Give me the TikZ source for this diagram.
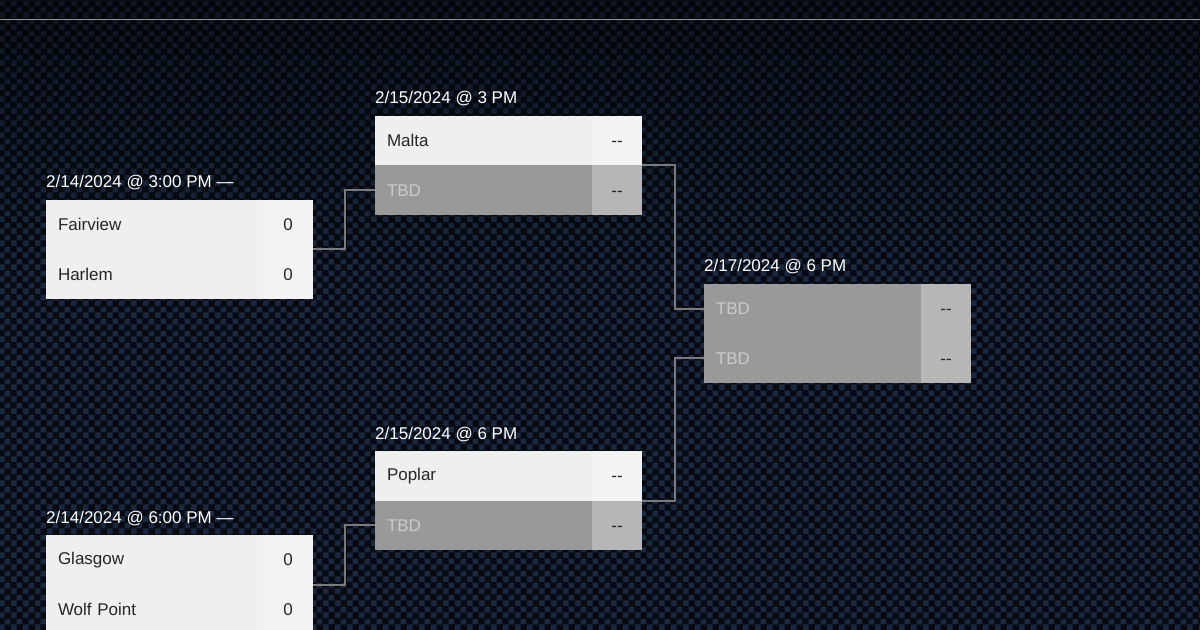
\documentclass[tikz,border=0pt]{standalone}
\usepackage{fontspec}
\setmainfont{Liberation Sans}
\usetikzlibrary{patterns,positioning,fadings}

\definecolor{bgdark}{HTML}{070B11}
\definecolor{bgcheck}{HTML}{172840}
\definecolor{rowlight}{HTML}{EFEFEF}
\definecolor{scorelight}{HTML}{F3F3F3}
\definecolor{rowgray}{HTML}{999999}
\definecolor{scoregray}{HTML}{B6B6B6}
\definecolor{tbdtext}{HTML}{CACACA}
\definecolor{linkgray}{HTML}{7A7A7A}

\pgfdeclarepatternformonly{carbon}{\pgfqpoint{0pt}{0pt}}{\pgfqpoint{12bp}{12bp}}{\pgfqpoint{12bp}{12bp}}{%
  \pgfpathrectangle{\pgfqpoint{0pt}{0pt}}{\pgfqpoint{6bp}{6bp}}%
  \pgfpathrectangle{\pgfqpoint{6bp}{6bp}}{\pgfqpoint{6bp}{6bp}}%
  \pgfusepath{fill}}

\newcommand{\nosc}{-{}-}

\tikzset{
  team/.style={fill=rowlight, draw=rowlight, line width=0.6bp, text=black!85,
    minimum width=216.4bp, minimum height=48.9bp,
    inner sep=0pt, text width=193bp, align=left, anchor=north west},
  tbd/.style={team, fill=rowgray, draw=rowgray, text=tbdtext},
  score/.style={fill=scorelight, draw=scorelight, line width=0.6bp, text=black!85,
    minimum width=49.4bp, minimum height=48.9bp, inner sep=0pt,
    text height=12bp, text depth=0pt, anchor=north west},
  tbdscore/.style={score, fill=scoregray, draw=scoregray},
  datelbl/.style={text=white, anchor=base west, inner sep=0pt},
  link/.style={draw=linkgray, line width=2bp}
}

\begin{document}
\begin{tikzpicture}[x=1bp, y=-1bp, font=\fontsize{17bp}{20bp}\selectfont]
\useasboundingbox (0,0) rectangle (1200,630);
\clip (0,0) rectangle (1200,630);
\fill[bgdark] (0,0) rectangle (1200,630);
\fill[pattern=carbon, pattern color=bgcheck] (0,0) rectangle (1200,630);
\fill[black, fill opacity=0.45, path fading=south] (0,0) rectangle (1200,260);
\draw[line width=1bp, gray!80] (0,20) -- (1200,20);

% round 1
\node[datelbl] (d1) at (46,188) {2/14/2024 @ 3:00 PM —};
\node[team] (m1a) at (46,200) {Fairview};
\node[score] (m1as) at (m1a.north east) {0};
\node[team] (m1b) at (m1a.south west) {Harlem};
\node[score] (m1bs) at (m1b.north east) {0};

\node[datelbl] (d2) at (46,523) {2/14/2024 @ 6:00 PM —};
\node[team] (m2a) at (46,535) {Glasgow};
\node[score] (m2as) at (m2a.north east) {0};
\node[team] (m2b) at (m2a.south west) {Wolf Point};
\node[score] (m2bs) at (m2b.north east) {0};

% round 2
\node[datelbl] (d3) at (375,104) {2/15/2024 @ 3 PM};
\node[team] (r2a) at (375,116) {Malta};
\node[score] (r2as) at (r2a.north east) {\nosc};
\node[tbd] (r2b) at (r2a.south west) {TBD};
\node[tbdscore] (r2bs) at (r2b.north east) {\nosc};

\node[datelbl] (d4) at (375,439) {2/15/2024 @ 6 PM};
\node[team] (r2c) at (375,451) {Poplar};
\node[score] (r2cs) at (r2c.north east) {\nosc};
\node[tbd] (r2d) at (r2c.south west) {TBD};
\node[tbdscore] (r2ds) at (r2d.north east) {\nosc};

% final
\node[datelbl] (d5) at (704,272) {2/17/2024 @ 6 PM};
\node[tbd] (fa) at (704,284) {TBD};
\node[tbdscore] (fas) at (fa.north east) {\nosc};
\node[tbd] (fb) at (fa.south west) {TBD};
\node[tbdscore] (fbs) at (fb.north east) {\nosc};

% connectors
\draw[link] (m1as.south east) -- ++(32,0) |- (r2b.west);
\draw[link] (m2as.south east) -- ++(32,0) |- (r2d.west);
\draw[link] (r2as.south east) -- ++(33,0) |- (fa.west);
\draw[link] (r2cs.south east) -- ++(33,0) |- (fb.west);
\end{tikzpicture}
\end{document}
